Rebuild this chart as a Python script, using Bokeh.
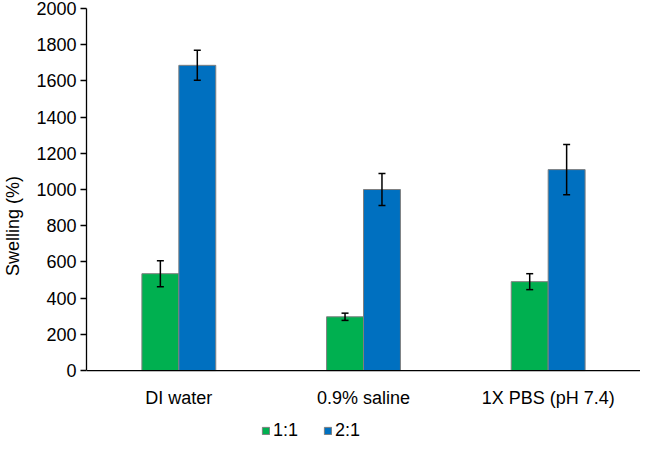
from bokeh.plotting import figure
from bokeh.models import (FactorRange, Range1d, FixedTicker, Whisker, ColumnDataSource,
                          Legend, LegendItem, TeeHead, Span)
from bokeh.core.properties import value
from bokeh.transform import dodge
from bokeh.embed import file_html
from bokeh.resources import INLINE

categories = ["DI water", "0.9% saline", "1X PBS (pH 7.4)"]
series_names = ["1:1", "2:1"]
swell_11 = [535, 297, 491]
err_11 = [72, 20, 44]
swell_21 = [1686, 1000, 1110]
err_21 = [83, 88, 139]
y_ticks = [0, 200, 400, 600, 800, 1000, 1200, 1400, 1600, 1800, 2000]

FONT = "Liberation Sans"
GREEN = "#00B050"
BLUE = "#0070C0"

src = ColumnDataSource(dict(
    cat=categories,
    v11=swell_11,
    v21=swell_21,
    u11=[v + e for v, e in zip(swell_11, err_11)],
    l11=[v - e for v, e in zip(swell_11, err_11)],
    u21=[v + e for v, e in zip(swell_21, err_21)],
    l21=[v - e for v, e in zip(swell_21, err_21)],
))

# y range extends below 0 so the category labels and legend sit inside the frame
p = figure(x_range=FactorRange(factors=categories), y_range=Range1d(-403, 2000),
           width=640, height=443, output_backend="svg", toolbar_location=None,
           x_axis_location=None,
           min_border_left=84, min_border_right=0, min_border_top=8, min_border_bottom=0)

r1 = p.vbar(x=dodge("cat", -0.1, range=p.x_range), top="v11", width=0.2, source=src,
            fill_color=GREEN, line_color="#7F7F7F", line_width=1)
r2 = p.vbar(x=dodge("cat", 0.1, range=p.x_range), top="v21", width=0.2, source=src,
            fill_color=BLUE, line_color="#7F7F7F", line_width=1)

for off, up, lo in [(-0.1, "u11", "l11"), (0.1, "u21", "l21")]:
    w = Whisker(base=dodge("cat", off, range=p.x_range), upper=up, lower=lo, source=src,
                line_color="black", line_width=1.5, level="annotation",
                upper_head=TeeHead(size=7, line_color="black", line_width=1.5),
                lower_head=TeeHead(size=7, line_color="black", line_width=1.5))
    p.add_layout(w)

# x axis line at y = 0
p.add_layout(Span(location=0, dimension="width", line_color="black", line_width=1.3))

# category labels
p.text(x="cat", y=-94, text="cat", source=src, text_align="center", text_baseline="top",
       text_font=value(FONT), text_font_size="18px", text_color="black")

p.xgrid.visible = False
p.ygrid.visible = False
p.outline_line_color = None

p.yaxis.bounds = (0, 2000)
p.yaxis.ticker = FixedTicker(ticks=y_ticks)
p.yaxis.major_tick_out = 6
p.yaxis.major_tick_in = 0
p.yaxis.major_tick_line_color = "black"
p.yaxis.major_tick_line_width = 1.3
p.yaxis.minor_tick_line_color = None
p.yaxis.axis_line_color = "black"
p.yaxis.axis_line_width = 1.3
p.yaxis.major_label_standoff = 4
p.yaxis.major_label_text_font = FONT
p.yaxis.major_label_text_font_size = "18px"
p.yaxis.major_label_text_color = "black"
p.yaxis.axis_label = "Swelling (%)"
p.yaxis.axis_label_text_font = FONT
p.yaxis.axis_label_text_font_size = "18px"
p.yaxis.axis_label_text_font_style = "normal"
p.yaxis.axis_label_text_color = "black"
p.yaxis.axis_label_standoff = 10

legend = Legend(items=[LegendItem(label=series_names[0], renderers=[r1]),
                       LegendItem(label=series_names[1], renderers=[r2])],
                orientation="horizontal", location=(175, 2),
                glyph_width=9, glyph_height=9, label_standoff=3, spacing=25,
                padding=4, margin=0, border_line_color=None, background_fill_alpha=0,
                label_text_font=FONT, label_text_font_size="18px", label_text_color="black")
p.add_layout(legend, "center")

open("out.html", "w").write(file_html(p, INLINE))
